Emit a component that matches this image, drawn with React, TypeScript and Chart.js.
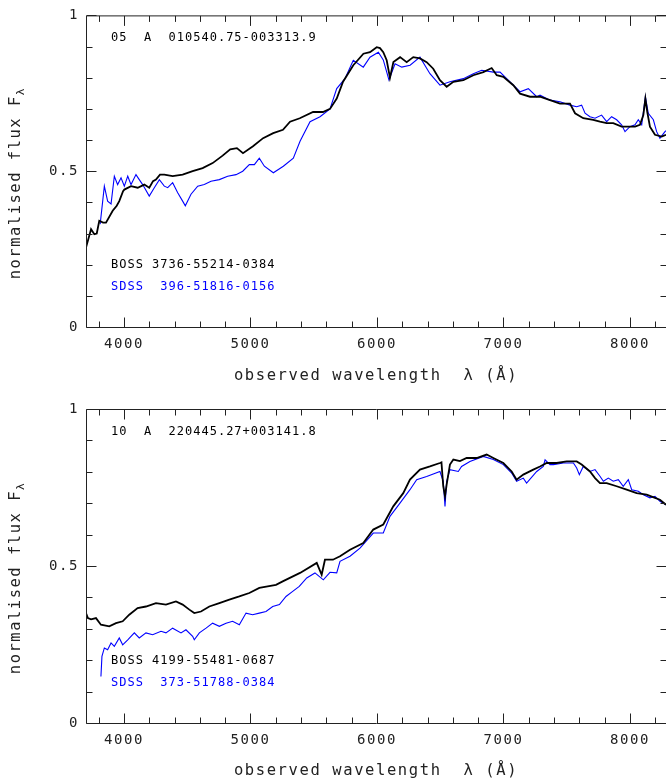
import React, { useEffect, useRef } from 'react';
import { Chart, registerables } from 'chart.js';

Chart.register(...registerables);

// ---------- axis / text content ----------
const xTickValues = [4000, 5000, 6000, 7000, 8000];
const yTickValues = [0, 0.5, 1];
const xMinorStep = 200;
const yMinorStep = 0.1;
const xMin = 3700;
const xMax = 8285;
const xTitle = 'observed wavelength  λ (Å)';
const yTitleMain = 'normalised flux F';
const yTitleSub = 'λ';

// ---------- panel 1 : 010540.75-003313.9 ----------
const p1Object = '05  A  010540.75-003313.9';
const p1BossLabel = 'BOSS 3736-55214-0384';
const p1SdssLabel = 'SDSS  396-51816-0156';

const p1BossWave = [3700, 3740, 3766, 3785, 3805, 3835, 3858, 3911, 3943, 3963, 3993, 4003, 4056, 4109, 4161, 4200, 4230, 4253, 4285, 4319, 4385, 4464, 4543, 4622, 4701, 4780, 4840, 4893, 4941, 5020, 5100, 5180, 5257, 5313, 5390, 5495, 5573, 5629, 5682, 5732, 5813, 5893, 5945, 5998, 6024, 6050, 6077, 6103, 6130, 6183, 6235, 6287, 6340, 6393, 6445, 6498, 6551, 6604, 6683, 6762, 6841, 6907, 6947, 6999, 7078, 7131, 7210, 7289, 7368, 7447, 7526, 7566, 7631, 7710, 7763, 7816, 7868, 7934, 7987, 8040, 8079, 8106, 8122, 8137, 8158, 8198, 8251, 8285];
const p1BossFlux = [0.255, 0.314, 0.298, 0.300, 0.341, 0.335, 0.335, 0.373, 0.389, 0.404, 0.436, 0.441, 0.452, 0.447, 0.457, 0.447, 0.468, 0.473, 0.489, 0.489, 0.484, 0.489, 0.500, 0.510, 0.526, 0.550, 0.570, 0.574, 0.558, 0.580, 0.606, 0.622, 0.633, 0.659, 0.670, 0.690, 0.690, 0.700, 0.733, 0.787, 0.840, 0.877, 0.882, 0.898, 0.895, 0.882, 0.856, 0.800, 0.850, 0.866, 0.850, 0.866, 0.862, 0.850, 0.829, 0.792, 0.771, 0.787, 0.792, 0.808, 0.818, 0.831, 0.808, 0.803, 0.776, 0.749, 0.739, 0.739, 0.728, 0.717, 0.717, 0.686, 0.670, 0.665, 0.659, 0.654, 0.654, 0.643, 0.643, 0.643, 0.649, 0.680, 0.733, 0.690, 0.643, 0.617, 0.611, 0.617];

const p1SdssWave = [3812, 3832, 3845, 3871, 3898, 3924, 3950, 3977, 4003, 4030, 4056, 4095, 4121, 4148, 4200, 4240, 4280, 4319, 4346, 4385, 4425, 4464, 4485, 4530, 4583, 4635, 4688, 4754, 4820, 4886, 4939, 4991, 5031, 5070, 5110, 5181, 5260, 5339, 5392, 5471, 5550, 5629, 5682, 5747, 5813, 5892, 5945, 6011, 6050, 6095, 6143, 6196, 6262, 6340, 6419, 6498, 6577, 6683, 6762, 6828, 6920, 6973, 7052, 7131, 7197, 7263, 7289, 7368, 7447, 7526, 7579, 7618, 7645, 7684, 7724, 7776, 7816, 7855, 7895, 7934, 7961, 8000, 8040, 8066, 8093, 8122, 8145, 8185, 8211, 8237, 8277, 8285];
const p1SdssFlux = [0.330, 0.404, 0.452, 0.404, 0.395, 0.484, 0.457, 0.479, 0.452, 0.484, 0.457, 0.489, 0.473, 0.457, 0.420, 0.447, 0.473, 0.452, 0.447, 0.463, 0.431, 0.404, 0.389, 0.426, 0.452, 0.457, 0.468, 0.473, 0.484, 0.489, 0.500, 0.521, 0.521, 0.542, 0.516, 0.495, 0.516, 0.542, 0.596, 0.659, 0.675, 0.700, 0.765, 0.797, 0.856, 0.834, 0.866, 0.882, 0.857, 0.793, 0.845, 0.834, 0.840, 0.866, 0.813, 0.776, 0.787, 0.797, 0.813, 0.824, 0.818, 0.818, 0.787, 0.755, 0.765, 0.739, 0.744, 0.728, 0.723, 0.712, 0.707, 0.712, 0.686, 0.675, 0.670, 0.680, 0.659, 0.675, 0.665, 0.649, 0.627, 0.643, 0.649, 0.665, 0.649, 0.739, 0.686, 0.665, 0.627, 0.606, 0.627, 0.630];

// ---------- panel 2 : 220445.27+003141.8 ----------
const p2Object = '10  A  220445.27+003141.8';
const p2BossLabel = 'BOSS 4199-55481-0687';
const p2SdssLabel = 'SDSS  373-51788-0384';

const p2BossWave = [3700, 3715, 3740, 3779, 3818, 3884, 3937, 3990, 4042, 4108, 4174, 4253, 4332, 4411, 4464, 4517, 4556, 4609, 4675, 4754, 4833, 4912, 4991, 5070, 5136, 5202, 5255, 5392, 5524, 5563, 5589, 5652, 5708, 5787, 5892, 5971, 6050, 6129, 6208, 6261, 6340, 6419, 6498, 6510, 6524, 6538, 6551, 6577, 6604, 6656, 6709, 6788, 6867, 6920, 6999, 7065, 7104, 7157, 7236, 7289, 7342, 7421, 7500, 7579, 7618, 7684, 7724, 7763, 7816, 7895, 7974, 8053, 8132, 8198, 8237, 8285];
const p2BossFlux = [0.350, 0.334, 0.330, 0.334, 0.313, 0.308, 0.318, 0.324, 0.345, 0.366, 0.371, 0.382, 0.377, 0.387, 0.377, 0.361, 0.350, 0.355, 0.371, 0.382, 0.393, 0.403, 0.414, 0.430, 0.435, 0.440, 0.451, 0.478, 0.510, 0.472, 0.520, 0.520, 0.531, 0.552, 0.573, 0.616, 0.632, 0.690, 0.732, 0.775, 0.807, 0.817, 0.828, 0.830, 0.754, 0.722, 0.759, 0.823, 0.839, 0.834, 0.844, 0.844, 0.855, 0.844, 0.828, 0.801, 0.775, 0.791, 0.807, 0.817, 0.828, 0.828, 0.833, 0.833, 0.823, 0.801, 0.780, 0.764, 0.764, 0.754, 0.743, 0.732, 0.727, 0.717, 0.711, 0.695];

const p2SdssWave = [3818, 3826, 3845, 3871, 3898, 3924, 3963, 3990, 4030, 4082, 4121, 4174, 4227, 4293, 4332, 4385, 4451, 4490, 4543, 4556, 4596, 4649, 4701, 4754, 4807, 4859, 4912, 4965, 5017, 5070, 5123, 5176, 5229, 5281, 5334, 5386, 5445, 5510, 5576, 5629, 5682, 5708, 5787, 5866, 5971, 6050, 6103, 6182, 6261, 6314, 6393, 6498, 6524, 6538, 6551, 6577, 6643, 6669, 6735, 6841, 6920, 6999, 7065, 7104, 7157, 7183, 7263, 7315, 7329, 7368, 7395, 7474, 7553, 7579, 7600, 7631, 7684, 7724, 7763, 7790, 7829, 7868, 7908, 7947, 7987, 8014, 8066, 8106, 8158, 8198, 8237, 8285];
const p2SdssFlux = [0.148, 0.212, 0.239, 0.233, 0.255, 0.244, 0.271, 0.249, 0.265, 0.287, 0.271, 0.287, 0.281, 0.292, 0.287, 0.302, 0.287, 0.297, 0.276, 0.265, 0.287, 0.302, 0.318, 0.308, 0.318, 0.324, 0.313, 0.350, 0.345, 0.350, 0.355, 0.371, 0.377, 0.403, 0.419, 0.435, 0.462, 0.478, 0.456, 0.480, 0.478, 0.515, 0.531, 0.557, 0.605, 0.605, 0.658, 0.700, 0.743, 0.775, 0.785, 0.801, 0.770, 0.690, 0.770, 0.807, 0.801, 0.817, 0.833, 0.849, 0.839, 0.823, 0.796, 0.770, 0.780, 0.764, 0.801, 0.817, 0.838, 0.823, 0.823, 0.828, 0.828, 0.812, 0.791, 0.817, 0.801, 0.807, 0.786, 0.770, 0.780, 0.770, 0.775, 0.754, 0.775, 0.743, 0.738, 0.727, 0.717, 0.722, 0.706, 0.695];

// ---------- styling ----------
const MONO = '"DejaVu Sans Mono", "Liberation Mono", monospace';
const BLACK = '#000000';
const BLUE = '#0000ff';
const AXIS = '#222222';

type PanelDef = {
  objectText: string;
  bossLabel: string;
  sdssLabel: string;
  bossWave: number[];
  bossFlux: number[];
  sdssWave: number[];
  sdssFlux: number[];
  padTop: number;
  axisH: number;
  titlePad: number;
};

const panels: PanelDef[] = [
  {
    objectText: p1Object, bossLabel: p1BossLabel, sdssLabel: p1SdssLabel,
    bossWave: p1BossWave, bossFlux: p1BossFlux, sdssWave: p1SdssWave, sdssFlux: p1SdssFlux,
    padTop: 13, axisH: 63, titlePad: 5.2,
  },
  {
    objectText: p2Object, bossLabel: p2BossLabel, sdssLabel: p2SdssLabel,
    bossWave: p2BossWave, bossFlux: p2BossFlux, sdssWave: p2SdssWave, sdssFlux: p2SdssFlux,
    padTop: 19, axisH: 57, titlePad: 0.2,
  },
];

function makeFramePlugin(p: PanelDef) {
  return {
    id: 'frameAndText',
    beforeDraw(chart: any) {
      chart.ctx.letterSpacing = '1.6px';
    },
    afterDraw(chart: any) {
      const { ctx, chartArea: a, scales } = chart;
      const xs = scales.x;
      const ys = scales.y;
      ctx.save();
      // frame
      ctx.strokeStyle = AXIS;
      ctx.lineWidth = 1;
      ctx.beginPath();
      ctx.rect(a.left + 0.5, a.top + 0.5, a.right - a.left, a.bottom - a.top);
      // x ticks (inside, bottom and top)
      const firstX = Math.ceil(xMin / xMinorStep) * xMinorStep;
      for (let v = firstX; v <= xMax; v += xMinorStep) {
        const px = Math.round(xs.getPixelForValue(v)) + 0.5;
        const len = v % 1000 === 0 ? 10 : 6;
        ctx.moveTo(px, a.bottom + 0.5);
        ctx.lineTo(px, a.bottom + 0.5 - len);
        ctx.moveTo(px, a.top + 0.5);
        ctx.lineTo(px, a.top + 0.5 + len);
      }
      // y ticks (inside, left and right)
      for (let i = 0; i <= Math.round(1 / yMinorStep); i++) {
        const v = i * yMinorStep;
        const py = Math.round(ys.getPixelForValue(v)) + 0.5;
        const major = i % 5 === 0;
        const len = major ? 10 : 6;
        ctx.moveTo(a.left + 0.5, py);
        ctx.lineTo(a.left + 0.5 + len, py);
        ctx.moveTo(a.right + 0.5, py);
        ctx.lineTo(a.right + 0.5 - len, py);
      }
      ctx.stroke();

      // annotations
      ctx.letterSpacing = '1px';
      ctx.font = `12px ${MONO}`;
      ctx.textAlign = 'left';
      ctx.textBaseline = 'alphabetic';
      ctx.fillStyle = BLACK;
      ctx.fillText(p.objectText, a.left + 25, a.top + 26);
      ctx.textBaseline = 'middle';
      ctx.fillText(p.bossLabel, a.left + 25, a.bottom - 62);
      ctx.fillStyle = BLUE;
      ctx.fillText(p.sdssLabel, a.left + 25, a.bottom - 40);

      // y title with subscript
      ctx.letterSpacing = '1.5px';
      ctx.fillStyle = AXIS;
      const mainFont = `15.5px ${MONO}`;
      const subFont = `11px ${MONO}`;
      ctx.font = mainFont;
      const w1 = ctx.measureText(yTitleMain).width;
      ctx.font = subFont;
      const w2 = ctx.measureText(yTitleSub).width;
      const total = w1 + w2;
      const cy = (a.top + a.bottom) / 2 + 12;
      ctx.translate(16, cy);
      ctx.rotate(-Math.PI / 2);
      ctx.textAlign = 'left';
      ctx.textBaseline = 'middle';
      ctx.font = mainFont;
      ctx.fillText(yTitleMain, -total / 2, 0);
      ctx.font = subFont;
      ctx.fillText(yTitleSub, -total / 2 + w1, 5);
      ctx.restore();
    },
  };
}

function Panel({ p }: { p: PanelDef }) {
  const ref = useRef<HTMLCanvasElement | null>(null);
  useEffect(() => {
    if (!ref.current) return;
    const chart = new Chart(ref.current, {
      type: 'line',
      data: {
        datasets: [
          {
            label: p.bossLabel,
            data: p.bossWave.map((x, i) => ({ x, y: p.bossFlux[i] })),
            borderColor: BLACK,
            borderWidth: 1.8,
            pointRadius: 0,
            tension: 0,
            fill: false,
          },
          {
            label: p.sdssLabel,
            data: p.sdssWave.map((x, i) => ({ x, y: p.sdssFlux[i] })),
            borderColor: BLUE,
            borderWidth: 1.1,
            pointRadius: 0,
            tension: 0,
            fill: false,
          },
        ],
      },
      options: {
        responsive: false,
        animation: false,
        devicePixelRatio: 1,
        layout: { padding: { top: p.padTop, left: 0, right: 0, bottom: 0 } },
        plugins: { legend: { display: false }, tooltip: { enabled: false } },
        scales: {
          x: {
            type: 'linear',
            min: xMin,
            max: xMax,
            grid: { display: false, drawTicks: false },
            border: { display: false },
            afterBuildTicks: (s: any) => {
              s.ticks = xTickValues.map((v) => ({ value: v }));
            },
            afterFit: (s: any) => {
              s.height = p.axisH;
            },
            ticks: {
              padding: 9,
              color: AXIS,
              maxRotation: 0,
              autoSkip: false,
              font: { family: MONO, size: 14 },
              callback: (v: any) => String(v),
            },
            title: {
              display: true,
              text: xTitle,
              color: AXIS,
              font: { family: MONO, size: 15.5 },
              padding: { top: 0, bottom: p.titlePad },
            },
          },
          y: {
            type: 'linear',
            min: 0,
            max: 1,
            grid: { display: false, drawTicks: false },
            border: { display: false },
            afterBuildTicks: (s: any) => {
              s.ticks = yTickValues.map((v) => ({ value: v }));
            },
            afterFit: (s: any) => {
              s.width = 86;
            },
            ticks: {
              padding: 7,
              color: AXIS,
              font: { family: MONO, size: 14 },
              callback: (v: any) => String(v),
            },
          },
        },
      } as any,
      plugins: [makeFramePlugin(p)],
    });
    return () => chart.destroy();
  }, [p]);
  return <canvas ref={ref} width={666} height={390} style={{ display: 'block', width: 666, height: 390 }} />;
}

export default function App() {
  return (
    <div style={{ position: 'absolute', left: 0, top: 0, width: 666, height: 780, background: '#fff' }}>
      {panels.map((p, i) => (
        <Panel key={i} p={p} />
      ))}
    </div>
  );
}
